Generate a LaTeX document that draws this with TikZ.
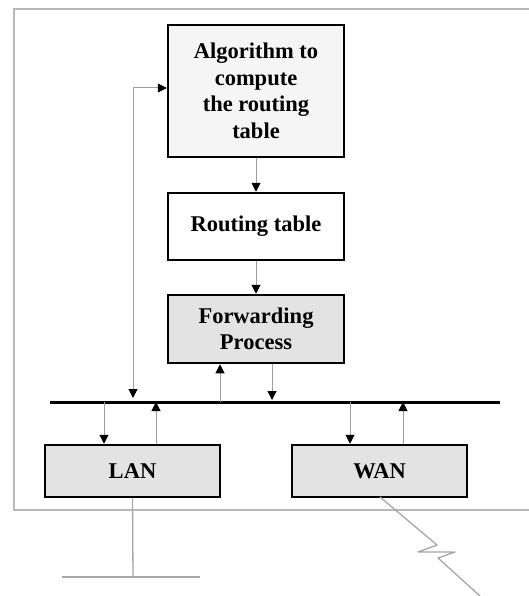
\documentclass[tikz,border=0pt]{standalone}
\usepackage{fontspec}
\setmainfont{Liberation Serif}
\usetikzlibrary{arrows.meta,calc}
\begin{document}
\begin{tikzpicture}[x=1pt,y=-1pt,
  box/.style={draw=black,line width=2.5pt,rectangle,minimum width=176pt,align=center,
    font=\fontsize{22.5}{26.5}\selectfont\bfseries,inner sep=0pt},
  arr/.style={draw=gray!75,line width=1pt,-{Triangle[length=9pt,width=9pt,fill=black,color=black]}},
  barr/.style={draw=gray!75,line width=1pt,{Triangle[length=9pt,width=9pt,fill=black,color=black]}-{Triangle[length=9pt,width=9pt,fill=black,color=black]}},
  thinline/.style={draw=gray!70,line width=1.3pt},
  frame/.style={draw=gray!55,line width=1.5pt}]
\useasboundingbox (0,0) rectangle (528,596);
% outer frame
\draw[frame] (530,9) -- (14,9) -- (14,510) -- (530,510);
% boxes
\node[box,fill=gray!8,minimum height=132pt] (algo) at (256,91) {Algorithm to\\compute\\the routing\\table};
\node[box,fill=white,minimum height=67pt] (rt) at (256,226.5) {Routing table};
\node[box,fill=gray!22,minimum height=68pt] (fp) at (256,329) {Forwarding\\Process};
\node[box,fill=gray!22,minimum width=175pt,minimum height=52pt] (lan) at (132.5,471) {LAN};
\node[box,fill=gray!22,minimum width=175pt,minimum height=52pt] (wan) at (379.5,471) {WAN};
% bus
\coordinate (busL) at (50,402);
\coordinate (busR) at (500,402);
\draw[line width=3pt] (busL) -- (busR);
\coordinate (b1) at (133,398);
\coordinate (b2) at (220,402);
\coordinate (b3) at (272,400);
\coordinate (b4) at (104,402);
\coordinate (b5) at (156,402);
\coordinate (b6) at (350,402);
\coordinate (b7) at (403,402);
% vertical chain
\draw[arr] (algo.south) -- (rt.north);
\draw[arr] (rt.south) -- (fp.north);
% feedback to algorithm
\coordinate (fbk) at (133,88);
\draw[barr] (b1) -- (fbk) -- (fbk -| algo.west);
% forwarding <-> bus
\draw[arr] (b2) -- (b2 |- fp.south);
\draw[arr] (b3 |- fp.south) -- (b3);
% LAN / WAN <-> bus
\draw[arr] (b4) -- (b4 |- lan.north);
\draw[arr] (b5 |- lan.north) -- (b5);
\draw[arr] (b6) -- (b6 |- wan.north);
\draw[arr] (b7 |- wan.north) -- (b7);
% LAN cable
\coordinate (lanEnd) at (133,577);
\coordinate (lanA) at (62,577);
\coordinate (lanB) at (200,577);
\draw[thinline] (lan.south) -- (lanEnd);
\draw[thinline] (lanA) -- (lanB);
% WAN lightning link
\coordinate (w0) at (380,497);
\draw[thinline,line join=round] (w0) -- (437,545) -- (418,552) -- (455,552) -- (438,558) -- (480,596);
\end{tikzpicture}
\end{document}
